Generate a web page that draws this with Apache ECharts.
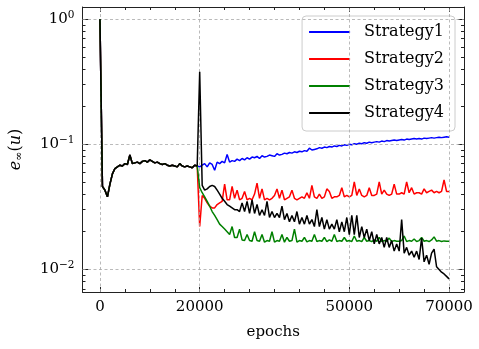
<!DOCTYPE html>
<html>
<head>
<meta charset="utf-8">
<script src="https://cdn.jsdelivr.net/npm/echarts@6/dist/echarts.min.js"></script>
<style>
  html, body { margin: 0; padding: 0; background: #fff; }
  #chart { width: 479px; height: 349px; }
</style>
</head>
<body>
<div id="chart"></div>
<script>
// sampling step in epochs, values start at epoch 0
const step = 500

// shared pre-training phase, epochs 0 .. 19500
const warmup = [
  1.0, 0.046, 0.043, 0.038, 0.048, 0.058, 0.064, 0.066, 0.068, 0.067,
  0.070, 0.069, 0.082, 0.070, 0.071, 0.072, 0.070, 0.073, 0.074, 0.072,
  0.075, 0.073, 0.071, 0.072, 0.070, 0.069, 0.070, 0.068, 0.067, 0.068,
  0.067, 0.066, 0.070, 0.067, 0.066, 0.067, 0.066, 0.065, 0.068, 0.067
]

// epochs 20000 .. 70000
const strategy1 = [
  0.066, 0.068, 0.070, 0.066, 0.071, 0.069, 0.062, 0.072, 0.070, 0.073,
  0.071, 0.083, 0.072, 0.074, 0.073, 0.076, 0.074, 0.077, 0.075, 0.078,
  0.076, 0.079, 0.078, 0.080, 0.077, 0.081, 0.079, 0.080, 0.082, 0.081,
  0.080, 0.084, 0.082, 0.083, 0.085, 0.084, 0.086, 0.085, 0.087, 0.086,
  0.088, 0.087, 0.089, 0.088, 0.093, 0.090, 0.091, 0.092, 0.094, 0.093,
  0.095, 0.094, 0.096, 0.095, 0.097, 0.096, 0.098, 0.097, 0.099, 0.098,
  0.100, 0.099, 0.101, 0.100, 0.102, 0.101, 0.103, 0.102, 0.104, 0.103,
  0.104, 0.105, 0.104, 0.106, 0.105, 0.107, 0.106, 0.107, 0.108, 0.107,
  0.108, 0.109, 0.108, 0.110, 0.109, 0.110, 0.111, 0.110, 0.111, 0.110,
  0.112, 0.111, 0.112, 0.113, 0.112, 0.113, 0.114, 0.113, 0.114, 0.115,
  0.114
]
const strategy2 = [
  0.022, 0.039, 0.037, 0.034, 0.032, 0.031, 0.031, 0.033, 0.034, 0.035,
  0.048, 0.036, 0.036, 0.046, 0.037, 0.043, 0.036, 0.037, 0.042, 0.036,
  0.037, 0.036, 0.040, 0.049, 0.037, 0.044, 0.036, 0.037, 0.036, 0.037,
  0.039, 0.044, 0.037, 0.043, 0.036, 0.037, 0.038, 0.043, 0.037, 0.036,
  0.037, 0.038, 0.037, 0.041, 0.037, 0.047, 0.038, 0.037, 0.040, 0.037,
  0.038, 0.044, 0.042, 0.037, 0.038, 0.038, 0.039, 0.045, 0.038, 0.039,
  0.038, 0.039, 0.050, 0.039, 0.044, 0.039, 0.038, 0.039, 0.045, 0.039,
  0.039, 0.040, 0.050, 0.040, 0.043, 0.040, 0.039, 0.040, 0.048, 0.040,
  0.040, 0.041, 0.040, 0.050, 0.041, 0.045, 0.040, 0.041, 0.041, 0.040,
  0.044, 0.041, 0.042, 0.043, 0.041, 0.042, 0.041, 0.042, 0.052, 0.042,
  0.042
]
const strategy3 = [
  0.045, 0.041, 0.038, 0.035, 0.032, 0.029, 0.027, 0.025, 0.023, 0.022,
  0.021, 0.020, 0.019, 0.022, 0.018, 0.018, 0.021, 0.0172, 0.017, 0.019,
  0.017, 0.0168, 0.020, 0.017, 0.0168, 0.019, 0.0165, 0.017, 0.0168, 0.020,
  0.0165, 0.017, 0.0168, 0.019, 0.0165, 0.018, 0.0168, 0.017, 0.021, 0.0165,
  0.017, 0.0168, 0.018, 0.0166, 0.017, 0.0168, 0.019, 0.0167, 0.017, 0.0168,
  0.018, 0.0167, 0.0172, 0.0168, 0.019, 0.0167, 0.017, 0.0168, 0.018, 0.0168,
  0.017, 0.0167, 0.0185, 0.0168, 0.017, 0.0167, 0.018, 0.0168, 0.017, 0.0167,
  0.0172, 0.0168, 0.018, 0.0167, 0.017, 0.0168, 0.0178, 0.0167, 0.017, 0.0168,
  0.0168, 0.017, 0.0185, 0.0167, 0.017, 0.0168, 0.0175, 0.0167, 0.017, 0.018,
  0.0168, 0.017, 0.0167, 0.0172, 0.0182, 0.0168, 0.017, 0.0167, 0.0169, 0.0168,
  0.0168
]
const strategy4 = [
  0.38, 0.047, 0.043, 0.044, 0.046, 0.047, 0.046, 0.043, 0.040, 0.037,
  0.035, 0.033, 0.032, 0.031, 0.030, 0.030, 0.029, 0.034, 0.029, 0.035,
  0.028, 0.036, 0.028, 0.033, 0.027, 0.030, 0.027, 0.035, 0.026, 0.029,
  0.026, 0.028, 0.026, 0.032, 0.025, 0.028, 0.024, 0.027, 0.024, 0.029,
  0.023, 0.026, 0.023, 0.027, 0.023, 0.025, 0.022, 0.030, 0.022, 0.026,
  0.021, 0.025, 0.021, 0.023, 0.021, 0.025, 0.020, 0.024, 0.020, 0.026,
  0.019, 0.027, 0.019, 0.027, 0.018, 0.022, 0.018, 0.021, 0.017, 0.020,
  0.016, 0.019, 0.016, 0.018, 0.015, 0.018, 0.015, 0.017, 0.014, 0.016,
  0.014, 0.025, 0.0135, 0.015, 0.013, 0.014, 0.0125, 0.014, 0.012, 0.0178,
  0.0115, 0.013, 0.011, 0.0135, 0.0145, 0.0105, 0.010, 0.0095, 0.0092, 0.0088,
  0.0084
]

const names = ['Strategy1', 'Strategy2', 'Strategy3', 'Strategy4']
const colors = ['#0000ff', '#ff0000', '#008000', '#000000']
const tails = [strategy1, strategy2, strategy3, strategy4]

const xMajor = [0, 20000, 50000, 70000]
const xMinor = [5000, 10000, 15000, 25000, 30000, 35000, 40000, 45000, 55000, 60000, 65000]
const yMajor = [0.01, 0.1, 1]
const yMinor = [0.007, 0.008, 0.009, 0.02, 0.03, 0.04, 0.05, 0.06, 0.07, 0.08, 0.09,
  0.2, 0.3, 0.4, 0.5, 0.6, 0.7, 0.8, 0.9]

const serif = 'DejaVu Serif'
const frame = '#222'
const xMin = -3500, xMax = 73000
const yMin = 0.0066, yMax = 1.25

function points(tail) {
  return warmup.concat(tail).map((v, i) => [i * step, v])
}

function supLabel(v) {
  const p = Math.round(Math.log10(v))
  return '{b|10}{s|' + (p < 0 ? '\u2212' + (-p) : p) + '}'
}

function xAxis(pos, ticks, len, main) {
  return {
    type: 'value', position: pos, min: xMin, max: xMax,
    axisLine: { show: main, onZero: false, lineStyle: { color: frame, width: 1 } },
    axisTick: { inside: true, length: len, customValues: ticks, lineStyle: { color: frame } },
    axisLabel: main && pos === 'bottom'
      ? { customValues: xMajor, margin: 8, color: '#000', fontFamily: serif, fontSize: 15,
          formatter: v => String(v) }
      : { show: false },
    splitLine: { show: false }
  }
}

function yAxis(pos, ticks, len, main) {
  return {
    type: 'log', position: pos, min: yMin, max: yMax,
    axisLine: { show: main, onZero: false, lineStyle: { color: frame, width: 1 } },
    axisTick: { inside: true, length: len, customValues: ticks, lineStyle: { color: frame } },
    axisLabel: main && pos === 'left'
      ? {
          customValues: yMajor, margin: 8, formatter: supLabel,
          rich: {
            b: { fontFamily: serif, fontSize: 15, color: '#000' },
            s: { fontFamily: serif, fontSize: 10.5, color: '#000', padding: [0, 0, 8, 0] }
          }
        }
      : { show: false },
    splitLine: { show: false }
  }
}

const chart = echarts.init(document.getElementById('chart'))

const xs = [
  xAxis('bottom', xMajor, 5, true),
  xAxis('bottom', xMinor, 3, false),
  xAxis('top', xMajor, 5, true),
  xAxis('top', xMinor, 3, false)
]
xs[0].name = 'epochs'
xs[0].nameLocation = 'middle'
xs[0].nameGap = 33
xs[0].nameTextStyle = { fontFamily: serif, fontSize: 15, color: '#000' }

const ys = [
  yAxis('left', yMajor, 6, true),
  yAxis('left', yMinor, 3, false),
  yAxis('right', yMajor, 6, true),
  yAxis('right', yMinor, 3, false)
]
ys[0].name = '{i|e}{sub|\u221e}{r|(}{i|u}{r|)}'
ys[0].nameLocation = 'middle'
ys[0].nameGap = 58
ys[0].nameTextStyle = {
  rich: {
    i: { fontFamily: serif, fontStyle: 'italic', fontSize: 16, color: '#000' },
    r: { fontFamily: serif, fontSize: 16, color: '#000' },
    sub: { fontFamily: serif, fontSize: 11, color: '#000', padding: [6, 0, 0, 0] }
  }
}

const series = names.map((name, k) => ({
  name, type: 'line', xAxisIndex: 0, yAxisIndex: 0,
  data: points(tails[k]), symbol: 'none', showSymbol: false,
  lineStyle: { color: colors[k], width: 1.5 }, itemStyle: { color: colors[k] },
  z: 3 + k, animation: false
}))

// dashed grid drawn as mark lines underneath the curves
series.unshift({
  type: 'line', xAxisIndex: 0, yAxisIndex: 0, data: [], z: 1, animation: false,
  markLine: {
    silent: true, symbol: ['none', 'none'], label: { show: false }, animation: false,
    lineStyle: { color: '#a8a8a8', width: 0.8, type: [3, 2.5] },
    data: xMajor.map(v => ({ xAxis: v })).concat(yMajor.map(v => ({ yAxis: v })))
  }
})

chart.setOption({
  animation: false,
  backgroundColor: '#fff',
  grid: { left: 81, right: 15, top: 7, bottom: 57, containLabel: false },
  xAxis: xs,
  yAxis: ys,
  legend: {
    data: names, orient: 'vertical', right: 24, top: 16,
    icon: 'rect', itemWidth: 41, itemHeight: 2, itemGap: 11,
    padding: [8, 11, 10, 7],
    backgroundColor: 'rgba(255,255,255,0.85)',
    borderColor: '#cccccc', borderWidth: 1, borderRadius: 4,
    textStyle: { fontFamily: serif, fontSize: 16, lineHeight: 16, color: '#000', padding: [0, 0, 0, 9] }
  },
  series
})
</script>
</body>
</html>
